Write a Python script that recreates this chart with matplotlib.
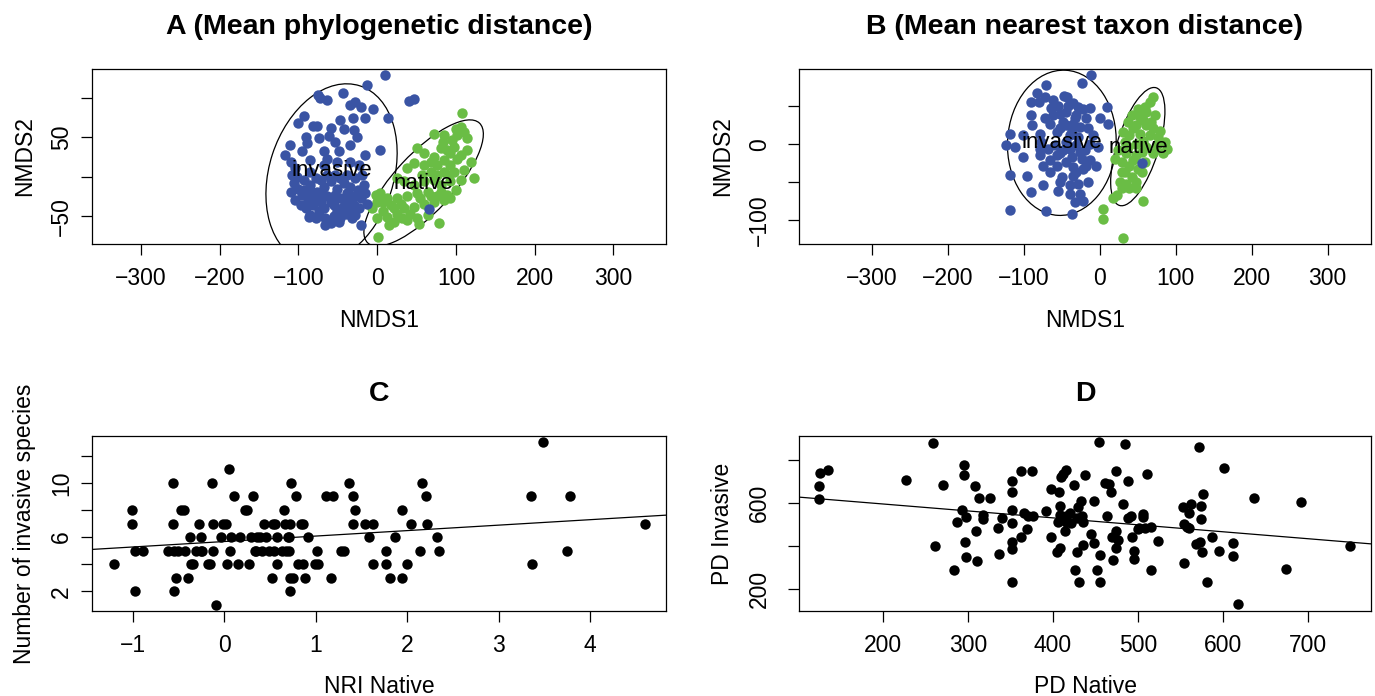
import numpy as np
import matplotlib
matplotlib.use('Agg')
import matplotlib.pyplot as plt
from matplotlib.patches import Ellipse

plt.rcParams['font.family'] = ['Liberation Sans', 'DejaVu Sans']

BLUE = '#3A54A4'
GREEN = '#6ABD45'

# NMDS scores, panel A: mean phylogenetic distance
a_invasive = [(10, 129), (-13, 116), (-75, 104), (-64, 97), (-73, 100), (-44, 106), (-28, 95),
              (-20, 88), (-5, 86), (-16, 74), (14, 75), (40, 96), (47, 99), (-93, 77), (-100, 68),
              (-82, 64), (-47, 72), (-31, 74), (-59, 62), (-42, 60), (-30, 59), (-91, 51), (-74, 49),
              (-61, 52), (-26, 51), (-34, 40), (-111, 40), (-95, 33), (-67, 33), (-49, 33), (4, 34),
              (-15, 27), (-117, 27), (-110, 19), (-85, 21), (-64, 23), (-34, 19), (-23, 15),
              (-106, -8), (-100, -15), (-93, -4), (-85, -11), (-76, -19), (-68, -13), (-59, -6),
              (-51, -15), (-42, -8), (-34, -13), (-25, -17), (-17, -11), (-104, -30), (-95, -23),
              (-87, -27), (-81, -36), (-72, -32), (-64, -25), (-55, -36), (-47, -27), (-38, -32),
              (-30, -25), (-21, -27), (-15, -21), (-91, -40), (-85, -49), (-74, -44), (-66, -53),
              (-59, -59), (-51, -44), (-40, -47), (-32, -53), (-47, -53), (-21, -61), (-68, -40),
              (-13, -34), (-93, -17), (-108, 2), (-102, 0), (-38, 2), (-28, -2), (-78, -2), (-53, 2),
              (-64, 2), (-72, -4), (-38, -21), (-53, -23), (-83, -19), (-76, -27), (-97, -36),
              (-23, -40), (-34, -40), (-110, -19), (-89, -33), (-78, -53), (-55, -50), (-28, -49),
              (-59, -32), (-44, -38), (-30, -36), (-70, -21), (-47, -2), (-19, 2), (-85, 6),
              (-104, 11), (-68, 15), (-51, 19), (-89, 43), (-53, 44), (-76, 64), (-34, 91),
              (-66, -61), (-49, -57), (-87, -51), (66, -41)]
a_native = [(108, 81), (106, 63), (110, 57), (102, 53), (114, 49), (72, 54), (85, 53), (95, 47),
            (83, 44), (89, 34), (97, 38), (114, 34), (106, 27), (119, 19), (51, 36), (59, 30),
            (72, 25), (76, 15), (85, 21), (93, 15), (102, 23), (38, 11), (47, 17), (59, 15), (68, 6),
            (85, 6), (97, 6), (110, 8), (123, -2), (25, -2), (34, -6), (47, -11), (59, -6), (72, -4),
            (81, -11), (93, -6), (106, -4), (4, -21), (13, -27), (25, -27), (38, -25), (51, -21),
            (64, -19), (76, -25), (89, -23), (100, -17), (-6, -40), (0, -32), (8, -44), (21, -40),
            (34, -40), (47, -38), (59, -34), (72, -32), (85, -30), (93, -27), (0, -53), (13, -51),
            (21, -57), (38, -55), (51, -53), (64, -49), (1, -76), (78, -59), (25, -47), (42, -47),
            (17, -36), (30, -34), (55, -27), (68, -25), (81, -19), (57, 2), (76, 2), (91, 2),
            (68, 19), (93, 30), (81, 36), (100, 60), (8, -32), (32, -53), (15, -61), (53, -60),
            (-1, -23)]

# panel B: mean nearest taxon distance
b_invasive = [(-11, 91), (-23, 81), (-71, 78), (-83, 68), (-72, 62), (-90, 55), (-80, 56), (-64, 48),
              (-55, 51), (-47, 64), (-43, 62), (-53, 40), (-35, 54), (-29, 49), (-22, 47), (-13, 48),
              (9, 49), (-90, 38), (-72, 34), (-61, 38), (-44, 43), (-31, 38), (-18, 34), (0, 35),
              (11, 27), (-66, 27), (-48, 29), (-35, 27), (-26, 23), (-15, 21), (-89, 26), (-118, 13),
              (-124, -1), (-112, -4), (-101, 12), (-79, 14), (-57, 16), (-39, 12), (-29, 10),
              (-9, 12), (-77, 3), (-44, 3), (-31, -1), (-13, 1), (-101, -17), (-79, -14), (-66, -21),
              (-53, -12), (-37, -17), (-24, -19), (-13, -21), (-5, -28), (-75, -28), (-57, -28),
              (-35, -30), (-22, -32), (-96, -41), (-66, -36), (-50, -43), (-35, -41), (-75, -54),
              (-53, -50), (-39, -54), (-29, -52), (-15, -50), (-90, -62), (-55, -61), (-39, -65),
              (-26, -65), (-33, -76), (-22, -74), (-118, -86), (-71, -87), (-37, -91), (-79, -6),
              (-59, -1), (-48, -8), (-20, -8), (-2, -4), (55, -24), (-44, 25), (-37, 18), (-53, 21),
              (-33, 34), (-42, 51), (-61, 58), (-26, -10), (-39, -6), (-57, -14), (-44, -23),
              (-31, -36), (-18, -28), (-68, -6), (-118, -40)]
b_native = [(70, 62), (66, 56), (59, 49), (61, 43), (50, 47), (42, 38), (53, 36), (72, 38), (37, 29),
            (48, 25), (61, 25), (70, 21), (79, 18), (31, 16), (39, 12), (53, 14), (66, 12), (77, 10),
            (86, 3), (88, -6), (33, 3), (48, 1), (61, -4), (75, -1), (24, -8), (35, -12), (48, -14),
            (70, -12), (83, -12), (29, -23), (39, -28), (50, -32), (33, -36), (42, -43), (26, -50),
            (35, -52), (48, -50), (29, -58), (39, -58), (22, -67), (57, -75), (4, -85), (4, -98),
            (31, -123), (18, -71), (20, -19), (29, -36), (55, -36), (57, 32), (68, 29), (44, 21),
            (57, 5), (37, -4), (55, -10), (44, -21), (59, -23), (48, -58), (79, 3)]

# ellipses: (centre x, centre y, width, height, angle); labels sit at the group centroids
a_ellipses = {'invasive': (-58, 4, 158, 234, -18), 'native': (59, -8, 208, 74, 47)}
b_ellipses = {'invasive': (-50, 2, 143, 191, -3), 'native': (50, -3, 162, 55, 72.6)}
a_centroids = {'invasive': (-58, 8), 'native': (59, -8)}
b_centroids = {'invasive': (-50, 2), 'native': (51, -4)}

# panel C: NRI native vs number of invasive species
c_points = [(-1.21, 4), (-1.01, 8), (-1.01, 7), (-0.98, 5), (-0.89, 5), (-0.98, 2), (-0.62, 5),
            (-0.56, 10), (-0.56, 7), (-0.55, 5), (-0.55, 2), (-0.53, 3), (-0.51, 5), (-0.48, 8),
            (-0.44, 8), (-0.43, 5), (-0.40, 3), (-0.38, 6), (-0.36, 4), (-0.34, 4), (-0.31, 5),
            (-0.28, 7), (-0.26, 6), (-0.26, 5), (-0.24, 5), (-0.18, 4), (-0.16, 4), (-0.14, 10),
            (-0.13, 5), (-0.12, 7), (-0.09, 1), (-0.04, 6), (-0.02, 7), (0.02, 7), (0.03, 4),
            (0.05, 11), (0.06, 5), (0.07, 6), (0.11, 9), (0.15, 4), (0.17, 6), (0.22, 8), (0.25, 8),
            (0.27, 4), (0.29, 6), (0.31, 9), (0.33, 5), (0.35, 5), (0.36, 6), (0.39, 6), (0.41, 5),
            (0.43, 7), (0.46, 6), (0.49, 5), (0.52, 3), (0.53, 7), (0.54, 5), (0.55, 7), (0.57, 6),
            (0.57, 4), (0.63, 5), (0.65, 8), (0.66, 7), (0.67, 5), (0.70, 6), (0.71, 6), (0.71, 5),
            (0.72, 7), (0.72, 3), (0.72, 2), (0.73, 10), (0.75, 3), (0.78, 9), (0.80, 4), (0.84, 7),
            (0.86, 7), (0.86, 4), (0.88, 3), (0.91, 6), (0.99, 4), (1.01, 5), (1.02, 4), (1.11, 9),
            (1.17, 3), (1.19, 9), (1.28, 5), (1.31, 5), (1.36, 10), (1.41, 9), (1.43, 8), (1.41, 7),
            (1.54, 7), (1.58, 6), (1.62, 7), (1.62, 4), (1.77, 5), (1.77, 4), (1.81, 3), (1.87, 6),
            (1.94, 8), (1.94, 3), (2.00, 4), (2.04, 7), (2.14, 5), (2.16, 10), (2.21, 9), (2.22, 7),
            (2.32, 6), (2.35, 5), (3.35, 9), (3.36, 4), (3.48, 13), (3.75, 5), (3.78, 9), (4.60, 7)]
c_fit = (5.67, 0.403)   # intercept, slope

# panel D: PD native vs PD invasive
d_points = [(126, 740), (135, 756), (125, 678), (125, 620), (227, 709), (259, 880), (261, 402),
            (271, 684), (284, 289), (287, 510), (293, 566), (296, 779), (296, 731), (298, 535),
            (297, 421), (298, 351), (308, 681), (310, 472), (311, 328), (313, 623), (318, 545),
            (318, 525), (326, 623), (335, 483), (337, 363), (340, 530), (352, 701), (352, 651),
            (352, 569), (352, 507), (352, 421), (352, 385), (352, 230), (362, 748), (363, 441),
            (366, 553), (370, 480), (371, 538), (375, 748), (377, 538), (392, 564), (398, 444),
            (398, 665), (405, 370), (406, 514), (407, 654), (409, 588), (409, 545), (409, 390),
            (410, 721), (412, 735), (414, 468), (415, 756), (416, 514), (415, 538), (420, 553),
            (421, 507), (425, 684), (426, 289), (428, 374), (429, 530), (430, 584), (431, 234),
            (433, 608), (434, 541), (435, 514), (435, 405), (438, 732), (445, 457), (448, 612),
            (448, 413), (452, 289), (454, 883), (456, 356), (456, 230), (462, 693), (464, 541),
            (466, 690), (468, 654), (470, 444), (471, 335), (474, 748), (474, 472), (474, 390),
            (477, 429), (483, 597), (485, 877), (488, 704), (488, 530), (492, 541), (493, 444),
            (495, 379), (496, 338), (500, 479), (502, 483), (506, 549), (506, 535), (511, 737),
            (508, 483), (515, 289), (516, 491), (524, 424), (553, 581), (554, 504), (555, 320),
            (558, 491), (560, 556), (563, 597), (560, 483), (569, 410), (572, 860), (573, 421),
            (574, 588), (575, 525), (577, 644), (576, 374), (582, 230), (587, 441), (596, 379),
            (601, 763), (612, 413), (612, 354), (618, 128), (637, 623), (674, 295), (692, 605),
            (750, 398)]
d_fit = (660.8, -0.3238)

nmds_ticks = [-300, -200, -100, 0, 100, 200, 300]

W, H = 1375, 696
FS = 16.5
MS = 7.5
fig = plt.figure(figsize=(W / 100, H / 100), dpi=100)


def box(left, top, width, height):
    return [left / W, 1 - (top + height) / H, width / W, height / H]


def style(ax, xt, yt, ylabels, ypad):
    ax.set_xticks(xt, [str(v) if v >= 0 else '\u2212' + str(-v) for v in xt])
    ax.set_yticks(yt, ylabels, rotation=90, va='center')
    ax.tick_params(direction='out', length=7.9, width=0.9, labelsize=FS, colors='black')
    ax.tick_params(axis='x', pad=8.4)
    ax.tick_params(axis='y', pad=ypad)
    for s in ax.spines.values():
        s.set_linewidth(0.9)


def labels(ax, left, top, width, title, xlab, ylab, ylab_x, title_base, xlab_base):
    cx = (left + width / 2) / W
    fig.text(cx, 1 - title_base / H, title, ha='center', va='baseline',
             fontsize=20.5, fontweight='bold')
    fig.text(cx, 1 - xlab_base / H, xlab, ha='center', va='baseline', fontsize=FS)
    fig.text(ylab_x / W, 1 - (top + 87.5) / H, ylab, ha='center', va='baseline',
             rotation=90, rotation_mode='anchor', fontsize=FS)


def ordination(ax, inv, nat, ells, cents):
    nx, ny = np.array(nat).T
    ix, iy = np.array(inv).T
    ax.plot(nx, ny, 'o', color=GREEN, ms=MS, mew=0)
    ax.plot(ix, iy, 'o', color=BLUE, ms=MS, mew=0)
    for name, (ex, ey, ew, eh, ea) in ells.items():
        ax.add_patch(Ellipse((ex, ey), ew, eh, angle=ea, fill=False, lw=0.9, ec='black'))
        tx, ty = cents[name]
        ax.text(tx, ty, name, ha='center', va='center', fontsize=16)


# A
ax_a = fig.add_axes(box(92.3, 69, 573.7, 175))
ordination(ax_a, a_invasive, a_native, a_ellipses, a_centroids)
ax_a.set_xlim(-362, 367)
ax_a.set_ylim(-85.4, 136.7)
style(ax_a, nmds_ticks, [-50, 0, 50, 100], ['\u221250', '', '50', ''], 5.8)
labels(ax_a, 92.3, 69, 573.7, 'A (Mean phylogenetic distance)', 'NMDS1', 'NMDS2', 31.5, 34, 327)

# B
ax_b = fig.add_axes(box(799, 69, 572, 175))
ordination(ax_b, b_invasive, b_native, b_ellipses, b_centroids)
ax_b.set_xlim(-396, 357)
ax_b.set_ylim(-131, 99)
style(ax_b, nmds_ticks, [-100, -50, 0, 50], ['\u2212100', '', '0', ''], 12.3)
labels(ax_b, 799, 69, 572, 'B (Mean nearest taxon distance)', 'NMDS1', 'NMDS2', 729, 34, 327)

# C
ax_c = fig.add_axes(box(92.3, 436, 573.7, 175))
cx_, cy_ = np.array(c_points).T
ax_c.plot(cx_, cy_, 'o', color='black', ms=MS, mew=0)
ax_c.axline((0, c_fit[0]), slope=c_fit[1], color='black', lw=0.9)
ax_c.set_xlim(-1.445, 4.83)
ax_c.set_ylim(0.54, 13.46)
style(ax_c, [-1, 0, 1, 2, 3, 4], [2, 4, 6, 8, 10, 12], ['2', '', '6', '', '10', ''], 5.8)
labels(ax_c, 92.3, 436, 573.7, 'C', 'NRI Native', 'Number of invasive species', 31.5, 401, 693)

# D
ax_d = fig.add_axes(box(799, 436, 572, 175))
dx_, dy_ = np.array(d_points).T
ax_d.plot(dx_, dy_, 'o', color='black', ms=MS, mew=0)
ax_d.axline((0, d_fit[0]), slope=d_fit[1], color='black', lw=0.9)
ax_d.set_xlim(101.3, 774.5)
ax_d.set_ylim(97, 913)
style(ax_d, [200, 300, 400, 500, 600, 700], [200, 400, 600, 800], ['200', '', '600', ''], 12.3)
labels(ax_d, 799, 436, 572, 'D', 'PD Native', 'PD Invasive', 729, 401, 693)

fig.savefig('out.png', dpi=100, facecolor='white')
